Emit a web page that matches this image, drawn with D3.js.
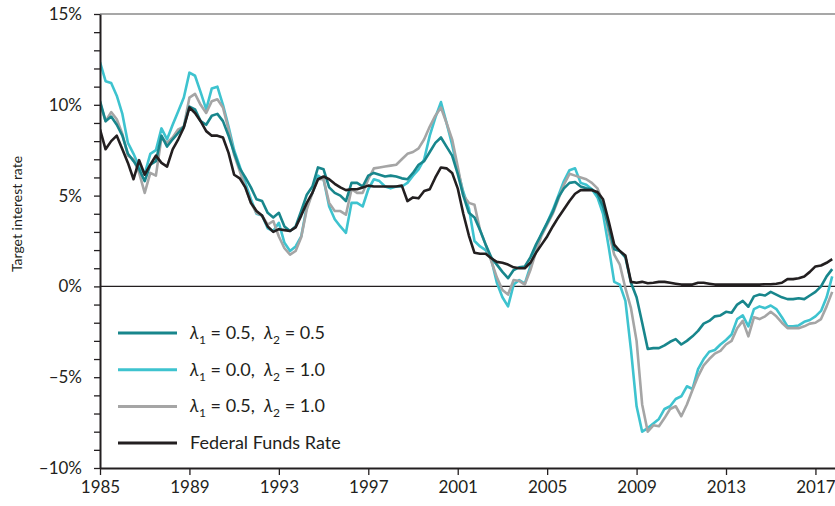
<!DOCTYPE html>
<html lang="en">
<head>
<meta charset="utf-8">
<title>Target interest rate</title>
<script src="https://cdn.jsdelivr.net/npm/d3@7"></script>
<style>
  body { margin: 0; background: #fff; }
  svg { display: block; font-family: Lato, "Open Sans", sans-serif; }
</style>
</head>
<body>
<div id="chart"></div>
<script>
// quarterly, 1985Q1 .. 2017Q4
var quarters = d3.range(132).map(function(i) { return 1985 + i / 4; });

var fedFunds = [
  8.65, 7.55, 8.0, 8.3,   7.55, 6.8, 5.9, 6.95,   6.15, 6.7, 7.2, 6.8,   6.6, 7.55, 8.1, 8.75,
  9.85, 9.55, 9.1, 8.55,  8.3, 8.3, 8.2, 7.35,    6.15, 5.95, 5.45, 4.6, 4.15, 3.9, 3.3, 3.0,
  3.15, 3.1, 3.05, 3.25,  3.9, 4.6, 5.15, 5.9,    6.05, 5.9, 5.65, 5.45, 5.3, 5.35, 5.35, 5.45,
  5.55, 5.5, 5.5, 5.5,    5.5, 5.5, 5.55, 4.7,    4.9, 4.85, 5.25, 5.35, 6.0, 6.55, 6.5, 6.25,
  5.4, 4.0, 2.8, 1.85,    1.8, 1.8, 1.55, 1.35,   1.3, 1.2, 1.05, 1.0,  1.0, 1.3, 1.85, 2.3,
  2.75, 3.3, 3.8, 4.25,   4.7, 5.1, 5.3, 5.3,     5.3, 5.2, 4.8, 3.6,   2.3, 1.95, 1.7, 0.25,
  0.2, 0.25, 0.17, 0.2,   0.25, 0.25, 0.2, 0.15,  0.1, 0.1, 0.1, 0.2,   0.2, 0.15, 0.1, 0.1,
  0.1, 0.1, 0.1, 0.1,     0.1, 0.1, 0.1, 0.12,    0.12, 0.15, 0.2, 0.4, 0.4, 0.45, 0.55, 0.8,
  1.1, 1.15, 1.3, 1.5
];

// lambda1 = 0.5, lambda2 = 0.5
var rule55 = [
  10.2, 9.1, 9.35, 8.9,   8.3, 7.3, 6.9, 6.45,    5.8, 6.7, 6.9, 8.3,   7.7, 8.1, 8.45, 8.8,
  9.9, 9.75, 9.1, 8.9,    9.4, 9.5, 9.1, 8.3,     7.35, 6.5, 6.0, 5.45, 4.8, 4.7, 4.05, 3.8,
  4.05, 3.3, 3.05, 3.3,   4.15, 5.05, 5.5, 6.55,  6.45, 5.45, 5.15, 5.0, 4.7, 5.7, 5.7, 5.5,
  6.1, 6.25, 6.15, 6.05,  6.1, 6.05, 5.95, 5.9,   6.25, 6.7, 6.9, 7.4,  7.9, 8.2, 7.7, 7.2,
  6.2, 5.0, 4.05, 3.8,    3.1, 2.3, 1.6, 1.2,     0.8, 0.45, 0.9, 1.05, 1.1, 1.6, 2.3, 2.9,
  3.5, 4.1, 4.9, 5.4,     5.7, 5.75, 5.5, 5.4,    5.35, 5.1, 4.4, 3.3,  2.05, 1.95, 1.6, 0.2,
  -0.6, -2.0, -3.45, -3.4, -3.4, -3.25, -3.05, -2.9, -3.2, -3.0, -2.75, -2.45, -2.05, -1.9, -1.65, -1.6,
  -1.4, -1.45, -1.0, -0.8, -1.12, -0.55, -0.45, -0.5, -0.3, -0.45, -0.6, -0.7, -0.7, -0.65, -0.7, -0.5,
  -0.3, 0.0, 0.55, 0.95
];

// lambda1 = 0.0, lambda2 = 1.0
var rule01 = [
  12.35, 11.3, 11.2, 10.5, 9.5, 7.9, 7.3, 6.6,    6.2, 7.3, 7.5, 8.7,   8.1, 8.9, 9.65, 10.4,
  11.77, 11.6, 10.7, 9.75, 10.9, 11.0, 10.0, 8.8, 7.5, 6.6, 5.7, 4.8,   4.0, 3.9, 3.2, 3.05,
  3.5, 2.4, 1.95, 2.2,    2.75, 4.4, 5.15, 6.1,   5.9, 4.4, 3.7, 3.3,   2.95, 4.6, 4.6, 4.4,
  5.35, 5.9, 5.8, 5.5,    5.4, 5.5, 5.5, 5.7,     6.1, 6.45, 7.0, 8.3,  9.3, 10.15, 9.0, 7.8,
  6.4, 5.2, 4.3, 2.5,     2.2, 2.0, 1.5, 0.2,     -0.6, -1.1, 0.1, 0.35, 0.15, 1.1, 2.1, 2.9,
  3.5, 4.2, 5.0, 5.8,     6.4, 6.5, 5.7, 5.6,     5.35, 4.9, 4.0, 2.2,  0.25, 0.1, -0.8, -3.5,
  -6.6, -8.0, -7.8, -7.55, -7.3, -6.75, -6.6, -6.2, -6.05, -5.5, -5.65, -4.55, -4.0, -3.6, -3.5, -3.2,
  -2.95, -2.65, -1.8, -1.6, -2.2, -1.25, -1.1, -1.2, -1.05, -1.25, -1.7, -2.2, -2.2, -2.15, -1.95, -1.85,
  -1.65, -1.35, -0.6, 0.55
];

// lambda1 = 0.5, lambda2 = 1.0
var rule51 = [
  10.1, 9.1, 9.6, 9.2,    8.4, 7.2, 7.0, 6.25,    5.15, 6.25, 6.1, 8.2, 7.9, 8.2, 8.65, 8.8,
  10.4, 10.6, 10.0, 9.55, 10.2, 10.3, 9.85, 8.65, 7.25, 6.35, 5.45, 4.6, 4.05, 3.9, 3.4, 3.6,
  2.75, 2.1, 1.75, 1.95,  2.7, 4.25, 5.15, 5.9,   5.9, 4.6, 4.15, 4.15, 3.95, 5.35, 5.15, 5.15,
  5.9, 6.5, 6.55, 6.6,    6.65, 6.7, 7.0, 7.3,    7.4, 7.6, 8.1, 8.8,   9.4, 9.85, 9.0, 8.1,
  6.6, 5.0, 4.6, 4.5,     3.1, 2.3, 1.4, 0.5,     -0.2, -0.45, 0.35, 0.3, 0.1, 0.9, 1.9, 2.8,
  3.4, 4.0, 4.8, 5.6,     6.2, 6.1, 6.0, 5.9,     5.7, 5.4, 4.6, 3.0,   1.75, 1.2, -0.1, -1.2,
  -3.0, -6.5, -8.0, -7.65, -7.7, -7.25, -6.75, -6.6, -7.15, -6.5, -5.7, -4.95, -4.35, -4.0, -3.7, -3.55,
  -3.2, -3.0, -2.3, -1.9, -2.75, -1.7, -1.8, -1.65, -1.4, -1.65, -2.0, -2.3, -2.3, -2.3, -2.2, -2.05,
  -2.0, -1.8, -1.1, -0.3
];

var yearTicks = [1985, 1989, 1993, 1997, 2001, 2005, 2009, 2013, 2017];
var rateTicks = d3.range(-10, 16);

var series = [
  {key: "c", values: rule01, color: "#3ec3cf", l1: "0.0", l2: "1.0"},
  {key: "g", values: rule51, color: "#a5a5a5", l1: "0.5", l2: "1.0"},
  {key: "t", values: rule55, color: "#18868c", l1: "0.5", l2: "0.5"},
  {key: "f", values: fedFunds, color: "#231f20", name: "Federal Funds Rate"}
];
var legendOrder = ["t", "c", "g", "f"];

var width = 835, height = 506;
var plot = {left: 100, right: 835, top: 14, bottom: 468};

var x = d3.scaleLinear().domain([1985, 2017.875]).range([plot.left, plot.right]);
var y = d3.scaleLinear().domain([-10, 15]).range([plot.bottom, plot.top]);

var svg = d3.select("#chart").append("svg")
    .attr("width", width)
    .attr("height", height);

svg.append("clipPath").attr("id", "plotclip")
  .append("rect")
    .attr("x", plot.left).attr("y", 0)
    .attr("width", plot.right - plot.left).attr("height", plot.bottom);

// top frame line
svg.append("line")
    .attr("x1", plot.left).attr("x2", plot.right)
    .attr("y1", y(15)).attr("y2", y(15))
    .style("stroke", "#8a8a8a")
    .style("stroke-width", 1.3);

// zero line
svg.append("line")
    .attr("x1", plot.left).attr("x2", plot.right)
    .attr("y1", y(0)).attr("y2", y(0))
    .style("stroke", "#231f20")
    .style("stroke-width", 1.3);

var line = d3.line()
    .x(function(d, i) { return x(quarters[i]); })
    .y(function(d) { return y(d); });

svg.append("g").attr("clip-path", "url(#plotclip)")
  .selectAll("path")
  .data(series)
  .enter().append("path")
    .attr("d", function(s) { return line(s.values); })
    .style("fill", "none")
    .style("stroke", function(s) { return s.color; })
    .style("stroke-width", 2.6)
    .style("stroke-linejoin", "round");

// axes
var yAxis = svg.append("g")
    .attr("transform", "translate(" + plot.left + ",0)")
    .call(d3.axisLeft(y)
      .tickValues(rateTicks)
      .tickSize(6)
      .tickSizeOuter(0)
      .tickFormat(function(d) {
        if (d % 5 !== 0) return "";
        return (d < 0 ? "\u2013" + (-d) : d) + "%";
      }));

var xAxis = svg.append("g")
    .attr("transform", "translate(0," + plot.bottom + ")")
    .call(d3.axisBottom(x)
      .tickValues(yearTicks)
      .tickSize(7)
      .tickSizeOuter(0)
      .tickFormat(d3.format("d")));

[yAxis, xAxis].forEach(function(a) {
  a.select(".domain").style("stroke", "#231f20").style("stroke-width", 2);
  a.selectAll(".tick line").style("stroke", "#231f20").style("stroke-width", 1.3);
  a.selectAll("text")
    .style("font-family", "Lato, sans-serif")
    .style("font-size", "17px")
    .style("fill", "#231f20");
});
yAxis.selectAll("text").attr("x", -18);
xAxis.selectAll("text").attr("y", 13);

svg.append("text")
    .attr("transform", "translate(22,214) rotate(-90)")
    .attr("text-anchor", "middle")
    .style("font-size", "14px")
    .style("fill", "#231f20")
    .text("Target interest rate");

// legend
var legend = svg.append("g");
legendOrder.forEach(function(k, row) {
  var s = series.filter(function(d) { return d.key === k; })[0];
  var ly = 333 + row * 36.7;
  legend.append("line")
      .attr("x1", 118).attr("x2", 177)
      .attr("y1", ly).attr("y2", ly)
      .style("stroke", s.color)
      .style("stroke-width", 3);
  var t = legend.append("text")
      .attr("x", 190).attr("y", ly + 6)
      .style("font-size", "18px")
      .style("fill", "#231f20");
  if (s.name) {
    t.text(s.name);
  } else {
    t.append("tspan").style("font-style", "italic").text("\u03bb");
    t.append("tspan").attr("dy", 5).style("font-size", "12px").text("1");
    t.append("tspan").attr("dy", -5).text(" = " + s.l1 + ",\u00a0\u00a0");
    t.append("tspan").style("font-style", "italic").text("\u03bb");
    t.append("tspan").attr("dy", 5).style("font-size", "12px").text("2");
    t.append("tspan").attr("dy", -5).text(" = " + s.l2);
  }
});
</script>
</body>
</html>
